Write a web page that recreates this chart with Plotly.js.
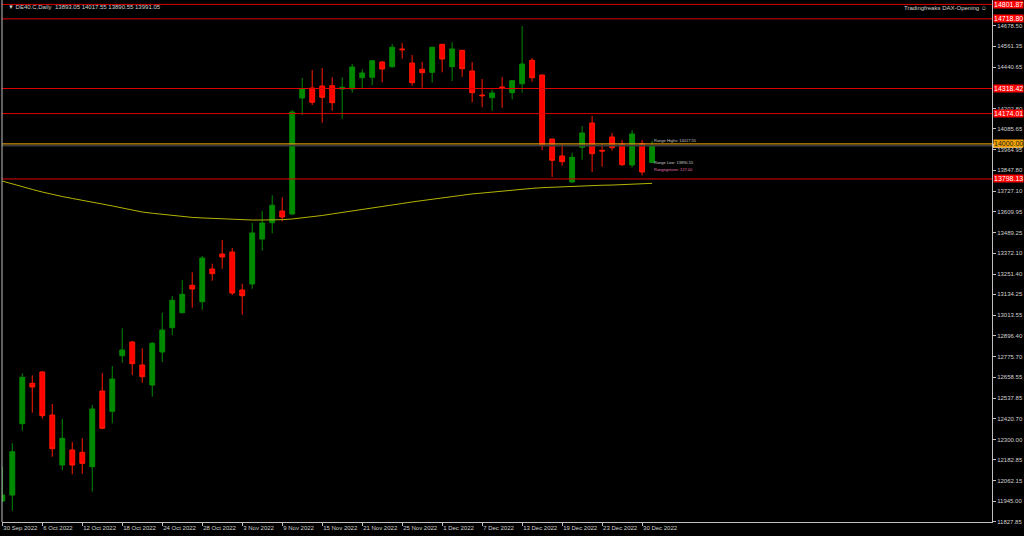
<!DOCTYPE html>
<html><head><meta charset="utf-8">
<script src="https://cdn.plot.ly/plotly-3.0.1.min.js"></script>
<style>html,body{margin:0;padding:0;background:#000;}#chart{width:1024px;height:536px;}</style>
</head><body><div id="chart"></div>
<script>
const dates = ['2022-09-30','2022-10-03','2022-10-04','2022-10-05','2022-10-06','2022-10-07','2022-10-10','2022-10-11','2022-10-12','2022-10-13','2022-10-14','2022-10-17','2022-10-18','2022-10-19','2022-10-20','2022-10-21','2022-10-24','2022-10-25','2022-10-26','2022-10-27','2022-10-28','2022-10-31','2022-11-01','2022-11-02','2022-11-03','2022-11-04','2022-11-07','2022-11-08','2022-11-09','2022-11-10','2022-11-11','2022-11-14','2022-11-15','2022-11-16','2022-11-17','2022-11-18','2022-11-21','2022-11-22','2022-11-23','2022-11-24','2022-11-25','2022-11-28','2022-11-29','2022-11-30','2022-12-01','2022-12-02','2022-12-05','2022-12-06','2022-12-07','2022-12-08','2022-12-09','2022-12-12','2022-12-13','2022-12-14','2022-12-15','2022-12-16','2022-12-19','2022-12-20','2022-12-21','2022-12-22','2022-12-23','2022-12-27','2022-12-28','2022-12-29','2022-12-30','2023-01-02'];
const open = [11946.0,11980.6,12390.6,12622.9,12687.9,12440.6,12153.1,12239.3,12226.1,12143.3,12578.7,12461.9,12781.7,12860.5,12728.2,12613.2,12802.9,12942.7,13029.0,13186.5,13092.2,13280.3,13366.5,13378.0,13159.5,13194.0,13452.8,13546.5,13613.8,13596.6,14263.7,14321.2,14332.7,14334.4,14315.5,14315.5,14380.4,14382.7,14470.7,14443.7,14545.5,14465.0,14428.8,14411.5,14572.5,14443.7,14538.0,14419.0,14281.0,14265.4,14327.0,14294.2,14345.9,14480.5,14396.0,14027.9,13930.1,13780.6,13980.2,14119.9,13962.9,14039.4,13999.2,13878.4,14000.9,13893.05];
const high = [12141.6,12277.9,12680.4,12668.9,12693.7,12503.9,12417.6,12285.4,12306.6,12498.1,12682.2,12722.4,12939.2,12866.3,12824.2,12860.5,13029.0,13125.0,13217.0,13261.3,13355.0,13310.8,13447.1,13401.1,13195.7,13546.5,13613.8,13704.1,13692.6,14194.7,14378.7,14424.7,14436.2,14382.7,14382.7,14459.2,14428.8,14482.2,14476.5,14574.3,14580.0,14511.0,14470.7,14558.7,14574.3,14584.0,14539.8,14470.7,14373.0,14311.4,14384.5,14367.2,14677.8,14493.7,14398.0,14027.9,14000.9,13949.1,14102.7,14160.2,13999.2,14062.4,14022.2,14079.7,14022.2,14017.55];
const low = [11940.3,11890.3,12350.4,12453.9,12419.4,12200.8,12122.6,12099.6,12103.0,11999.5,12358.4,12392.9,12741.4,12670.7,12626.4,12545.9,12745.4,12900.7,13025.5,13057.7,13046.2,13213.0,13282.0,13130.8,13017.4,13167.0,13385.5,13485.6,13554.6,13590.8,14165.9,14223.4,14121.7,14190.7,14144.7,14294.2,14315.5,14336.7,14354.0,14438.0,14489.7,14334.4,14322.9,14351.7,14411.5,14361.5,14386.2,14239.0,14210.2,14190.7,14207.9,14256.2,14294.2,14357.4,13962.9,13809.4,13874.4,13776.6,13908.9,13838.1,13868.6,13960.6,13872.6,13865.2,13819.2,13890.55];
const close = [11980.6,12229.6,12657.4,12601.7,12436.6,12246.8,12306.6,12153.1,12162.9,12475.1,12364.1,12647.7,12814.4,12735.7,12660.9,12853.0,12929.5,13100.3,13134.8,13165.3,13343.5,13253.3,13349.3,13142.3,13126.7,13487.3,13544.8,13646.6,13579.3,14183.2,14315.5,14239.0,14267.7,14236.7,14325.2,14442.0,14407.5,14478.2,14430.5,14555.3,14541.5,14351.7,14409.2,14555.3,14488.0,14545.5,14432.2,14294.2,14276.9,14292.5,14322.9,14363.2,14459.2,14380.4,13989.4,13905.4,13897.4,13922.7,14062.4,13943.4,13958.9,13977.9,13880.1,14056.7,13838.1,13991.05];
const ma = [13786,13769,13752,13738,13723,13709,13697,13686,13674,13666,13654,13643,13631,13620,13608,13601,13594,13588,13582,13577,13574,13571,13568,13565,13562,13562,13562,13562,13564,13568,13574,13579,13588,13597,13605,13614,13623,13631,13640,13648,13657,13666,13674,13683,13692,13697,13706,13712,13717,13723,13729,13735,13740,13744,13748,13751,13754,13756,13758,13760,13762,13763,13766,13769,13771,13773];
const tickDates = ['2022-09-30','2022-10-06','2022-10-12','2022-10-18','2022-10-24','2022-10-28','2022-11-03','2022-11-09','2022-11-15','2022-11-21','2022-11-25','2022-12-01','2022-12-07','2022-12-13','2022-12-19','2022-12-23','2022-12-30'];
const tickLabels = ['30 Sep 2022','6 Oct 2022','12 Oct 2022','18 Oct 2022','24 Oct 2022','28 Oct 2022','3 Nov 2022','9 Nov 2022','15 Nov 2022','21 Nov 2022','25 Nov 2022','1 Dec 2022','7 Dec 2022','13 Dec 2022','19 Dec 2022','23 Dec 2022','30 Dec 2022'];
const priceTicks = [14678.50,14561.35,14440.65,14202.80,14085.65,13964.95,13847.80,13727.10,13609.95,13489.25,13372.10,13251.40,13134.25,13013.55,12896.40,12775.70,12658.55,12537.85,12420.70,12300.00,12182.85,12062.15,11945.00,11827.85];
const levels = [14801.87,14718.80,14318.42,14174.01,13798.13];
const openingLevel = 14000.00;
const bidPrice = 13991.05;
const header = 'DE40.C,Daily  13893.05 14017.55 13890.55 13991.05';
const rangeTexts = ['Range Highs: 14017.55','Range Low: 13890.55','Rangegrösse: 127.00'];

const FONT = 'Liberation Sans, Arial, sans-serif';
const traces = [
  {type:'scatter', mode:'lines', x:dates, y:ma, line:{color:'#b4b400', width:1}, hoverinfo:'skip'},
  {type:'candlestick', x:dates, open:open, high:high, low:low, close:close,
   increasing:{line:{color:'#008a00', width:1}, fillcolor:'#008a00'},
   decreasing:{line:{color:'#ff1a00', width:1}, fillcolor:'#ff0000'},
   whiskerwidth:0}
];
const shapes = [];
levels.forEach(v => shapes.push({type:'line', xref:'paper', x0:0, x1:1, yref:'y', y0:v, y1:v, line:{color:'#e00000', width:1}}));
shapes.push({type:'line', xref:'paper', x0:0, x1:1, yref:'y', y0:bidPrice, y1:bidPrice, line:{color:'#3a3a3a', width:2}});
shapes.push({type:'line', xref:'paper', x0:0, x1:1, yref:'y', y0:openingLevel, y1:openingLevel, line:{color:'#f0a000', width:1}});
shapes.push({type:'line', xref:'paper', x0:0, x1:0, yref:'paper', y0:0, y1:1, line:{color:'#c0c0c0', width:1}});
// partially hidden bid-price box on the price scale
shapes.push({type:'rect', xref:'paper', x0:1.001, x1:1.031, yref:'y', y0:bidPrice - 14, y1:bidPrice + 10, line:{width:0}, fillcolor:'#e8e8e8', layer:'above'});

const ann = [];
levels.forEach(v => ann.push({xref:'paper', x:1, xanchor:'left', xshift:1, yref:'y', y:v, yanchor:'middle', text:v.toFixed(2), showarrow:false, bgcolor:'#ff0000', font:{family:FONT, size:7, color:'#ffffff'}, borderpad:0}));
ann.push({xref:'paper', x:1, xanchor:'left', xshift:1, yref:'y', y:openingLevel, yanchor:'middle', text:openingLevel.toFixed(2), showarrow:false, bgcolor:'#f0a000', font:{family:FONT, size:7, color:'#202020'}, borderpad:0});
ann.push({xref:'paper', x:0, xanchor:'left', xshift:4, yref:'paper', y:1, yanchor:'top', yshift:-2, text:'▼ ' + header, showarrow:false, font:{family:FONT, size:6, color:'#d0d0d0'}});
ann.push({xref:'paper', x:1, xanchor:'right', xshift:-3, yref:'paper', y:1, yanchor:'top', yshift:-3, text:'Tradingfreaks DAX-Opening ☺', showarrow:false, font:{family:FONT, size:6, color:'#d0d0d0'}});
const rangeY = [14017.55, 13890.55, 13850.0];
const rangeCol = ['#c8c8c8','#c8c8c8','#e070b0'];
rangeTexts.forEach((t,i) => ann.push({xref:'x', x:dates[dates.length-1], xanchor:'left', xshift:0, yref:'y', y:rangeY[i], yanchor:'middle', text:t, showarrow:false, font:{family:FONT, size:4, color:rangeCol[i]}}));

const layout = {
  width:1024, height:536,
  paper_bgcolor:'#000', plot_bgcolor:'#000',
  margin:{l:2, r:32, t:0, b:14},
  showlegend:false,
  font:{family:FONT, size:6, color:'#d0d0d0'},
  xaxis:{type:'category', range:[-0.03, 99], rangeslider:{visible:false},
    tickvals:tickDates, ticktext:tickLabels, ticklabelposition:'outside right', tickangle:0,
    ticks:'outside', ticklen:3, tickcolor:'#c0c0c0', showgrid:false, zeroline:false,
    showline:true, linecolor:'#c0c0c0', linewidth:1, tickfont:{family:FONT, size:6, color:'#d0d0d0'}, fixedrange:true},
  yaxis:{side:'right', range:[11825.3, 14827.3], tickvals:priceTicks, ticktext:priceTicks.map(v=>v.toFixed(2)),
    ticks:'outside', ticklen:3, tickcolor:'#c0c0c0', showgrid:false, zeroline:false,
    showline:true, linecolor:'#c0c0c0', linewidth:1, tickfont:{family:FONT, size:6, color:'#d0d0d0'}},
  shapes:shapes, annotations:ann
};
Plotly.newPlot('chart', traces, layout, {staticPlot:true, displayModeBar:false});
</script></body></html>
